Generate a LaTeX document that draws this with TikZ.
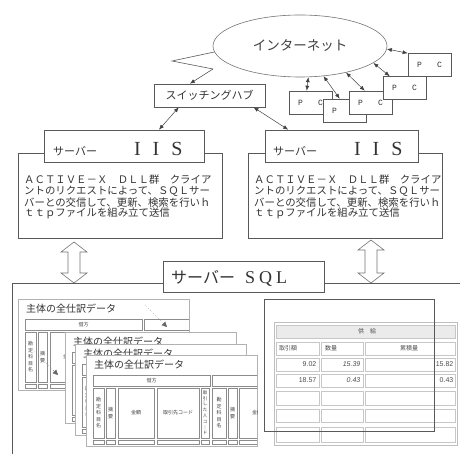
\documentclass[tikz,border=0pt]{standalone}
\usepackage{fontspec}
\setmainfont{Liberation Serif}
\newfontfamily\jp{Noto Sans CJK JP}
\newfontfamily\mono{Liberation Mono}
\newfontfamily\lsans{Liberation Sans}
\usetikzlibrary{arrows.meta,shapes.geometric}

% #1 name prefix, #2 x, #3 y, #4 = 1 for a fully visible sheet, 0 for a mostly hidden one
\newcommand{\datasheet}[4]{%
 \begin{scope}[shift={(#2,#3)}]
  \filldraw[fill=white, draw=black!30, line width=1pt] (0,0) rectangle (171,91);
  \begin{scope}
   \clip (0,0) rectangle (171,91);
   \node[font=\jp\fontsize{10}{11}\selectfont, text=black!80, anchor=west, inner sep=0pt] (#1t) at (8,10) {主体の全仕訳データ};
   \draw[scell] (7,20) rectangle (124,31);
   \draw[scell] (126,20) rectangle (260,31);
   \draw[scell] (7,33) rectangle (18,83);
   \node[stxt] (#1a) at (12.5,58) {勘\\定\\科\\目\\名};
   \draw[scell] (20,33) rectangle (29,83);
   \draw[scell] (32,33) rectangle (68,83);
   \draw[scell] (71,33) rectangle (113,83);
   \draw[scell] (115,33) rectangle (123,83);
   \draw[scell] (126,33) rectangle (140,83);
   \draw[scell] (142,33) rectangle (151,83);
   \draw[scell] (153,33) rectangle (189,83);
   \ifnum#4=1
   \node[stxt] (#1h) at (65.5,25.5) {借方};
   \node[stxt] (#1b) at (24.5,58) {摘\\要};
   \node[stxt] (#1c) at (50,58) {金額};
   \node[stxt] (#1d) at (92,58) {取引先コード};
   \node[stxt, font=\jp\fontsize{4.5}{5.8}\selectfont] (#1e) at (119,58) {取\\引\\し\\た\\人\\コ\\｜\\ド};
   \node[stxt] (#1f) at (133,58) {勘\\定\\科\\目\\名};
   \node[stxt] (#1g) at (146.5,58) {摘\\要};
   \node[stxt] (#1k) at (171,58) {金額};
   \fi
   \foreach \xa/\xb in {7/18,20/29,32/68,71/113,115/123,126/140,142/151,153/189}
     \draw[scell] (\xa,85) rectangle (\xb,89);
  \end{scope}
 \end{scope}}

\begin{document}
\begin{tikzpicture}[x=1pt,y=-1pt,
 ln/.style={draw=black!65, line width=0.6pt},
 boxn/.style={ln, fill=white, rectangle, inner sep=0pt, text=black!80},
 dar/.style={{Latex[length=5pt,width=4pt]}-{Latex[length=5pt,width=4pt]}, draw=black!75, line width=0.5pt},
 sar/.style={-{Latex[length=5pt,width=4pt]}, draw=black!75, line width=0.5pt},
 pcbox/.style={boxn, minimum width=43pt, minimum height=23pt, font=\mono\fontsize{8}{9}\selectfont},
 blk/.style={draw=black!55, fill=white, line width=0.6pt},
 tcell/.style={draw=black!22, line width=0.9pt},
 tval/.style={font=\lsans\fontsize{7}{8}\selectfont, text=black!70, inner sep=1.5pt},
 tjp/.style={font=\jp\fontsize{6}{7}\selectfont, text=black!70, inner sep=0pt},
 scell/.style={draw=black!45, line width=0.4pt},
 stxt/.style={font=\jp\fontsize{5}{6.5}\selectfont, text=black!75, inner sep=0pt, align=center},
 body/.style={font=\jp\fontsize{10.4}{10.5}\selectfont, text=black!80, inner sep=0pt, align=left, anchor=north west},
]
\useasboundingbox (0,0) rectangle (460,454);

% Internet cloud
\node[ellipse, draw=black!55, line width=0.6pt, minimum width=174pt, minimum height=62pt, inner sep=0pt,
      font=\jp\fontsize{13.5}{15}\selectfont, text=black!75] (net) at (300,46) {インターネット};

% hub
\node[boxn, minimum width=111pt, minimum height=23pt, font=\jp\fontsize{11}{13}\selectfont] (hub) at (209.5,95.5) {スイッチングハブ};

% zigzag from cloud to hub
\coordinate (z1) at (172,61);
\coordinate (z2) at (213,69);
\draw[ln] (net.184) -- (z1) -- (z2);
\draw[sar] (z2) -- (hub.149.5);

% PCs
\node[pcbox] (pcC) at (310.5,102.5) {P\hspace{15pt}C};
\node[pcbox] (pcD) at (344.5,110.5) {P\hspace{15pt}C};
\node[pcbox] (pcE) at (370.5,102.5) {P\hspace{15pt}C};
\node[pcbox] (pcB) at (404.5,88) {P\hspace{15pt}C};
\node[pcbox] (pcA) at (429.5,65) {P\hspace{15pt}C};

\draw[dar] (net.-2) -- (pcA.north west);
\draw[dar] (net.-13) -- ([xshift=7pt]pcB.north west);
\draw[dar] (net.-30) -- ([xshift=16pt]pcE.north west);
\draw[dar] (net.-52) -- ([xshift=17pt]pcD.north west);
\draw[dar] (net.-75) -- ([xshift=18pt]pcC.north west);

% servers
\node[boxn, minimum width=204pt, minimum height=85pt] (lm) at (120,195.5) {};
\node[boxn, minimum width=160pt, minimum height=32pt] (ls) at (124,146) {};
\node[anchor=base west, inner sep=0pt, text=black!80] (lst) at (53,156)
  {{\jp\fontsize{11}{13}\selectfont サーバー}\hspace{37pt}{\fontsize{20}{22}\selectfont I\hspace{12pt}I\hspace{12pt}S}};
\node[body] (lb) at (24,175) {ＡＣＴＩＶＥ－Ｘ　ＤＬＬ群　クライア\\ントのリクエストによって、ＳＱＬサー\\バーとの交信して、更新、検索を行いｈ\\ｔｔｐファイルを組み立て送信};

\node[boxn, minimum width=194pt, minimum height=85pt] (rm) at (345,195.5) {};
\node[boxn, minimum width=153pt, minimum height=32pt] (rs) at (341.5,146) {};
\node[anchor=base west, inner sep=0pt, text=black!80] (rst) at (273,156)
  {{\jp\fontsize{11}{13}\selectfont サーバー}\hspace{37pt}{\fontsize{20}{22}\selectfont I\hspace{12pt}I\hspace{12pt}S}};
\node[body] (rb) at (254,175) {ＡＣＴＩＶＥ－Ｘ　ＤＬＬ群　クライア\\ントのリクエストによって、ＳＱＬサー\\バーとの交信して、更新、検索を行いｈ\\ｔｔｐファイルを組み立て送信};

\draw[dar] (hub.201.3) -- (ls.25.9);
\draw[dar] (hub.-15.9) -- (rs.163.4);

% SQL frame
\draw[ln] (12,456) -- (12,283) -- (462,283);

% hollow double arrows
\draw[blk] (74,242) -- (61,252) -- (68,252) -- (68,273) -- (61,273) -- (74,283) -- (87,273) -- (80,273) -- (80,252) -- (87,252) -- cycle;
\draw[blk] (371,240) -- (358,250) -- (365,250) -- (365,273) -- (358,273) -- (371,283) -- (384,273) -- (377,273) -- (377,250) -- (384,250) -- cycle;

\node[boxn, minimum width=161pt, minimum height=31pt] (sq) at (243.5,276.5) {};
\node[anchor=base west, inner sep=0pt, text=black!80] (sqt) at (171,283)
  {{\jp\fontsize{16}{18}\selectfont サーバー}\hspace{10pt}{\fontsize{18}{20}\selectfont S\hspace{4pt}Q\hspace{4pt}L}};

% data sheets
\datasheet{s1}{18}{299}{1}
\draw[dotted, black!60, -{Triangle[length=5pt,width=5pt]}] (145,305) -- (167,327);
\draw[dotted, black!60, -{Triangle[length=5pt,width=5pt]}] (33,350) -- (58,375);
\datasheet{s2}{65}{332}{0}
\datasheet{s3}{75}{344}{0}
\datasheet{s4}{86}{355}{1}

% right table
\draw[draw=black!25, line width=0.6pt] (274,322) rectangle (457,445);
\draw[tcell, fill=black!8] (276,325) rectangle (455,338);
\node[tjp] (th) at (367,331.5) {供　給};
\foreach \ya/\yb in {342/355,358/371,374/387,391/405,409/422,427/442}{
  \draw[tcell] (276,\ya) rectangle (319,\yb);
  \draw[tcell] (321,\ya) rectangle (363,\yb);
  \draw[tcell] (365,\ya) rectangle (455,\yb);
}
\node[tjp, anchor=west] (c1) at (279,348.5) {取引額};
\node[tjp, anchor=west] (c2) at (325,348.5) {数量};
\node[tjp] (c3) at (409,348.5) {累積量};
\node[tval, anchor=east] (v11) at (318,364.5) {9.02};
\node[tval, anchor=east, font=\lsans\itshape\fontsize{7}{8}\selectfont] (v12) at (362,364.5) {15.39};
\node[tval, anchor=east] (v13) at (455,364.5) {15.82};
\node[tval, anchor=east] (v21) at (318,380.5) {18.57};
\node[tval, anchor=east, font=\lsans\itshape\fontsize{7}{8}\selectfont] (v22) at (362,380.5) {0.43};
\node[tval, anchor=east] (v23) at (455,380.5) {0.43};

% frame over table
\draw[ln] (264,299) rectangle (434,431);
\end{tikzpicture}
\end{document}
